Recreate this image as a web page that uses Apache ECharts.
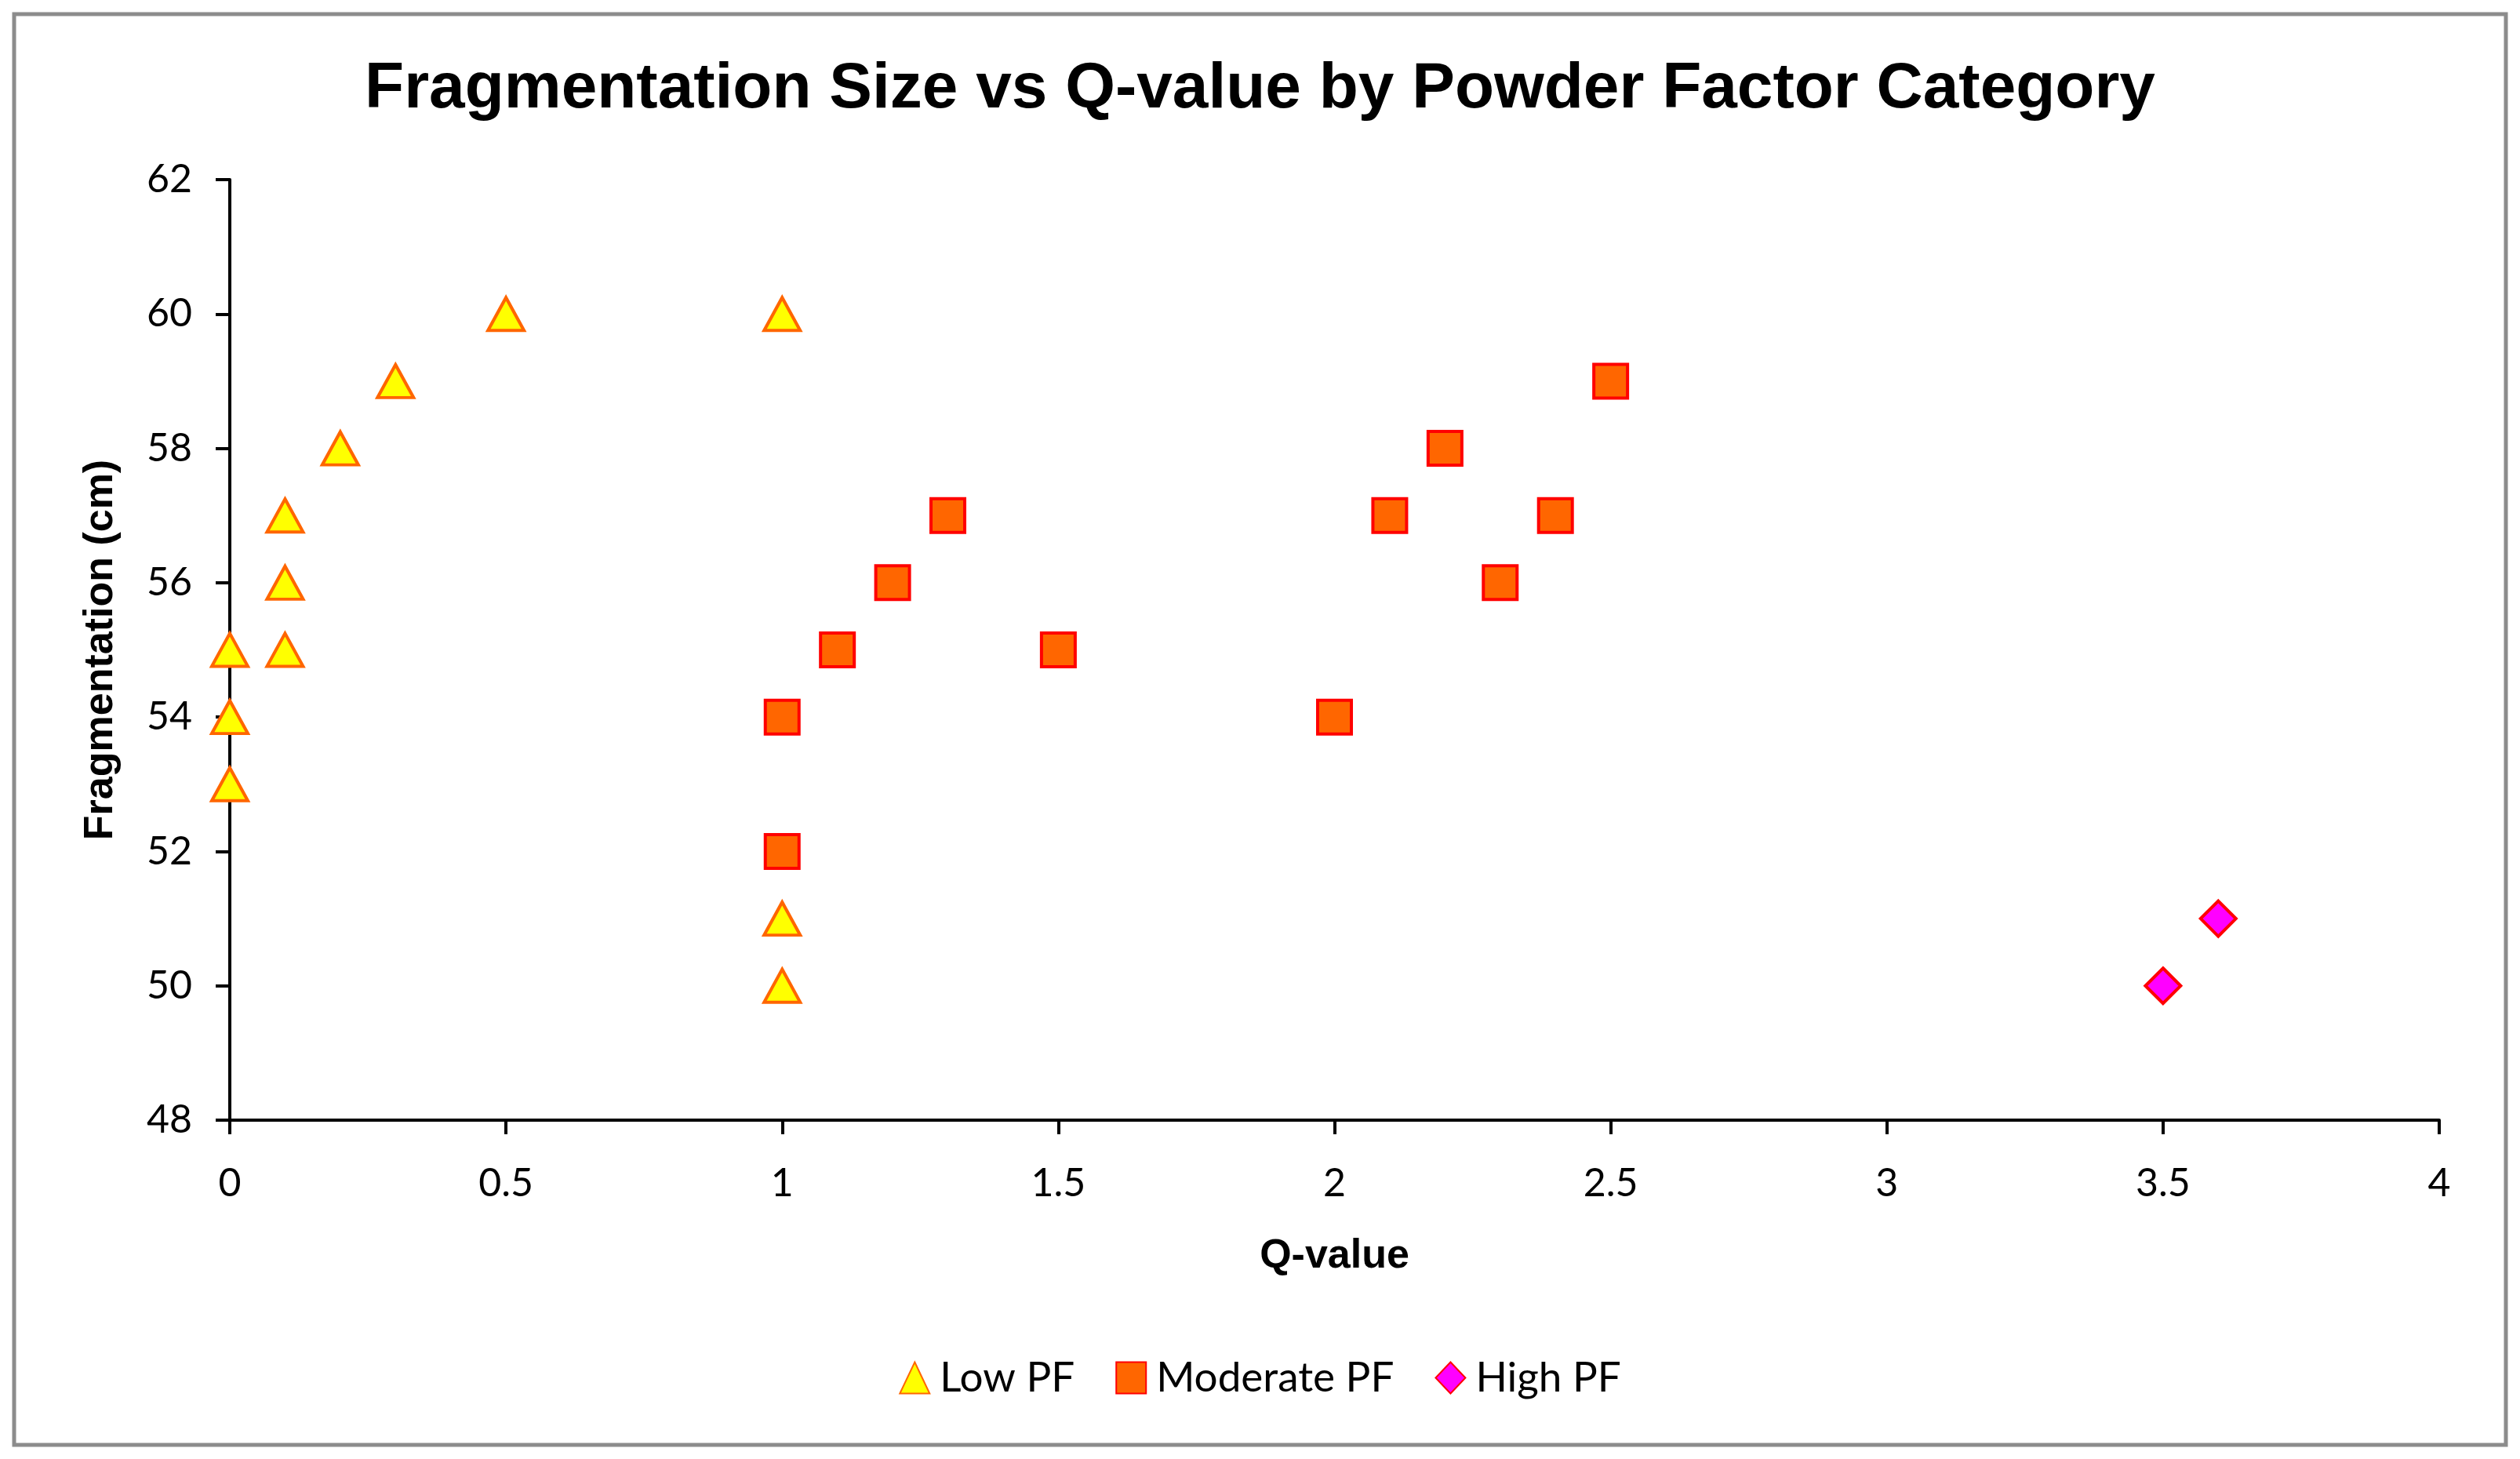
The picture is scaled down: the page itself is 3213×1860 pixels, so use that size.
<!DOCTYPE html>
<html>
<head>
<meta charset="utf-8">
<script src="https://cdn.jsdelivr.net/npm/echarts@6/dist/echarts.min.js"></script>
<style>
html,body{margin:0;padding:0;background:#fff;}
#chart{width:3213px;height:1860px;}
</style>
</head>
<body>
<div id="chart"></div>
<script>
const seriesNames = ['Low PF', 'Moderate PF', 'High PF'];
const lowPF = [[0,53],[0,54],[0,55],[0.1,55],[0.1,56],[0.1,57],[0.2,58],[0.3,59],[0.5,60],[1,60],[1,51],[1,50]];
const moderatePF = [[1,52],[1,54],[1.1,55],[1.2,56],[1.3,57],[1.5,55],[2,54],[2.1,57],[2.2,58],[2.3,56],[2.4,57],[2.5,59]];
const highPF = [[3.5,50],[3.6,51]];
const xRange = {min:0, max:4, interval:0.5};
const yRange = {min:48, max:62, interval:2};

const chart = echarts.init(document.getElementById('chart'));
const tickFont = 'Lato, "Open Sans", sans-serif';
const axisCommon = {
  axisLine:{show:true, onZero:false, lineStyle:{color:'#000', width:4}},
  axisTick:{show:true, inside:false, length:18, lineStyle:{color:'#000', width:4}},
  splitLine:{show:false},
  axisLabel:{color:'#000', fontSize:50, fontFamily:tickFont},
  nameTextStyle:{color:'#000', fontSize:52, fontWeight:'bold', fontFamily:'"Liberation Sans", Arial, sans-serif'}
};
chart.setOption({
  backgroundColor:'#fff',
  animation:false,
  title:{
    text:'Fragmentation Size vs Q-value by Powder Factor Category',
    left:'center', top:68,
    textStyle:{fontSize:82, fontWeight:'bold', color:'#000', fontFamily:'"Liberation Sans", Arial, sans-serif'}
  },
  graphic:[{type:'rect', shape:{x:18, y:18, width:3177, height:1824}, style:{fill:'none', stroke:'#8c8c8c', lineWidth:5}, silent:true, z:-1}],
  legend:{
    top:1725, left:'center',
    itemWidth:38, itemHeight:40, itemGap:52,
    textStyle:{fontSize:53, color:'#000', fontFamily:tickFont, padding:[0,0,0,8]},
    data:seriesNames
  },
  grid:{left:293, right:103, top:229, bottom:432, containLabel:false},
  xAxis:Object.assign({}, axisCommon, {
    type:'value', min:xRange.min, max:xRange.max, interval:xRange.interval,
    name:'Q-value', nameLocation:'middle', nameGap:148,
    axisLabel:Object.assign({}, axisCommon.axisLabel, {margin:56})
  }),
  yAxis:Object.assign({}, axisCommon, {
    type:'value', min:yRange.min, max:yRange.max, interval:yRange.interval,
    name:'Fragmentation (cm)', nameLocation:'middle', nameGap:138, nameRotate:90,
    axisLabel:Object.assign({}, axisCommon.axisLabel, {margin:48})
  }),
  series:[
    {name:seriesNames[0], type:'scatter', data:lowPF, symbol:'triangle', symbolSize:[46,42],
     itemStyle:{color:'#FFFF00', borderColor:'#FF6600', borderWidth:4, opacity:1}},
    {name:seriesNames[1], type:'scatter', data:moderatePF, symbol:'rect', symbolSize:43,
     itemStyle:{color:'#FF6600', borderColor:'#FF0000', borderWidth:4, opacity:1}},
    {name:seriesNames[2], type:'scatter', data:highPF, symbol:'diamond', symbolSize:[45,45],
     itemStyle:{color:'#FF00FF', borderColor:'#FF0000', borderWidth:4, opacity:1}}
  ]
});
</script>
</body>
</html>
